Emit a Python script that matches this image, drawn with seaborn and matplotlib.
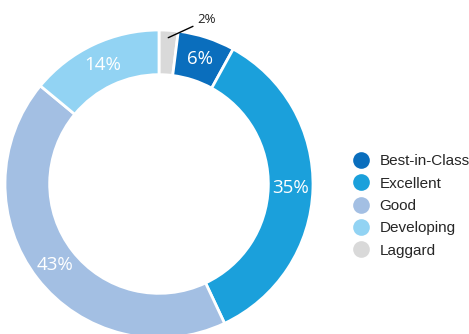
import matplotlib
matplotlib.use("Agg")
import matplotlib.pyplot as plt
from matplotlib.lines import Line2D
import numpy as np
import seaborn as sns

# Performance tiers, drawn clockwise from 12 o'clock
categories = ["Laggard", "Best-in-Class", "Excellent", "Good", "Developing"]
shares = [2, 6, 35, 43, 14]
colors = ["#D9D9D9", "#0A6EBD", "#1BA0DB", "#A3BFE3", "#92D3F3"]
legend_order = ["Best-in-Class", "Excellent", "Good", "Developing", "Laggard"]

sns.set_theme(style="white")
plt.rcParams["font.family"] = ["Liberation Sans", "DejaVu Sans"]

W, H, DPI = 469, 334, 100
fig = plt.figure(figsize=(W / DPI, H / DPI), dpi=DPI)
fig.patch.set_facecolor("white")

cx, cy, r = 159, 184, 154
ax = fig.add_axes([(cx - r) / W, (H - cy - r) / H, 2 * r / W, 2 * r / H])
ax.set_facecolor("white")

wedges, _ = ax.pie(
    shares,
    colors=colors,
    startangle=90,
    counterclock=False,
    radius=1.0,
    wedgeprops=dict(width=0.29, edgecolor="white", linewidth=2),
)
ax.set_xlim(-1, 1)
ax.set_ylim(-1, 1)
ax.set_aspect("equal")
ax.axis("off")

# In-ring percentage labels at the middle of each wedge
label_r = 0.855
for w, v in zip(wedges, shares):
    ang = np.deg2rad((w.theta1 + w.theta2) / 2)
    x, y = label_r * np.cos(ang), label_r * np.sin(ang)
    if v < 5:
        ax.annotate(
            f"{v}%", xy=(0.06, 0.95), xytext=(0.25, 1.065),
            ha="left", va="center", fontsize=9.5, color="#222222",
            family=["Open Sans", "DejaVu Sans"],
            arrowprops=dict(arrowstyle="-", color="black", lw=1, shrinkA=1, shrinkB=0),
            annotation_clip=False,
        )
    else:
        ax.text(x, y, f"{v}%", ha="center", va="center", color="white",
                fontsize=13.5, family=["Open Sans", "DejaVu Sans"])

handles = [
    Line2D([0], [0], marker="o", linestyle="", markersize=12,
           markerfacecolor=colors[categories.index(c)], markeredgecolor="none")
    for c in legend_order
]
fig.legend(
    handles, legend_order,
    loc="center left", bbox_to_anchor=(352 / W, 1 - 206 / H),
    frameon=False, fontsize=11, handletextpad=0.6, labelspacing=0.55,
    handlelength=1.2, borderpad=0, borderaxespad=0,
)

fig.savefig("out.png", dpi=DPI, facecolor="white")
